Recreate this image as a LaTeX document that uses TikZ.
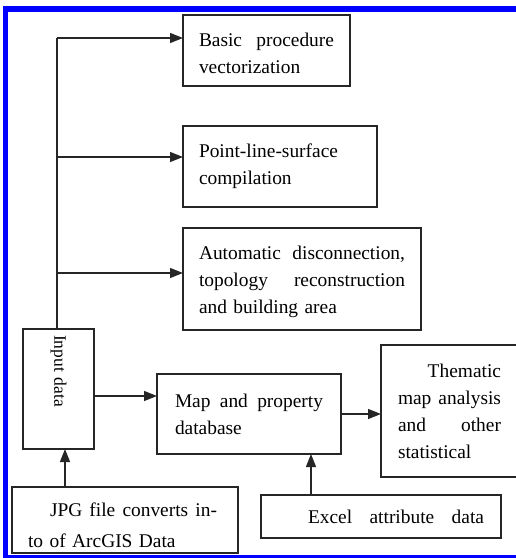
\documentclass[tikz,border=0pt]{standalone}
\usepackage{fontspec}
\setmainfont{Liberation Serif}
\usetikzlibrary{arrows.meta}
\newcommand{\fillline}[2]{\leavevmode\hbox to #1{#2}}

\begin{document}
\begin{tikzpicture}[x=1pt,y=-1pt,
    box/.style={draw=black!85,line width=1.4pt,fill=white,outer sep=0pt,
      anchor=north west,inner xsep=16pt,inner ysep=0pt,align=left,
      font=\fontsize{19.4}{27}\selectfont},
    link/.style={draw=black!85,line width=1.4pt,-{Triangle[length=13pt,width=10pt]}},
    frame/.style={draw=blue,line width=5.5pt}]
  \useasboundingbox (0,0) rectangle (516,558);
  \clip (0,0) rectangle (516,558);
  % right hand column of processing steps
  \node[box,text width=135pt,minimum height=71pt] (basic) at (183,15)
    {\rule{0pt}{20pt}\fillline{135pt}{Basic\hfill procedure}\\vectorization};
  \node[box,text width=162pt,minimum height=81pt] (point) at (183,126)
    {Point-line-surface\\compilation};
  \node[box,text width=206pt,minimum height=102pt] (auto) at (183,228)
    {\rule{0pt}{20pt}\fillline{206pt}{Automatic\hfill disconnection,}\\
     \fillline{206pt}{topology\hfill reconstruction}\\and building area};
  % input and database row
  \node[box,anchor=center,rotate=-90,inner xsep=6pt,text width=108pt,
    minimum height=71pt,font=\fontsize{17.5}{20}\selectfont] (input) at (58.5,389)
    {Input data};
  \node[box,inner xsep=18pt,text width=148pt,minimum height=80pt] (map) at (157,374)
    {\fillline{148pt}{Map\hfill and\hfill property}\\database};
  \node[box,inner xsep=17pt,text width=103pt,minimum height=132pt] (them) at (381,345)
    {\fillline{103pt}{\hfill Thematic}\\\fillline{103pt}{map\hfill analysis}\\
     \fillline{103pt}{and\hfill other}\\statistical};
  % sources at the bottom
  \node[box,text width=194pt,minimum height=66pt,
    font=\fontsize{19.4}{31}\selectfont] (jpg) at (12,487)
    {\rule{0pt}{24pt}\hspace*{22pt}\fillline{167pt}{JPG\hfill file\hfill converts\hfill in-}\\to of ArcGIS Data};
  \node[box,inner xsep=17pt,text width=206pt,minimum height=43pt] (excel) at (261,495)
    {\hspace*{30pt}\fillline{176pt}{Excel\hfill attribute\hfill data}};

  % trunk from the input box with its three branches
  \coordinate (trunk) at (57,38);
  \draw[draw=black!85,line width=1.4pt] (trunk |- input.west) -- (trunk);
  \foreach \b/\y in {basic/38,point/157,auto/273}{
    \coordinate (fork) at (57,\y);
    \draw[link] (fork) -- (fork -| \b.west);
  }
  \coordinate (inout) at ([yshift=-7pt]input.north);
  \draw[link] (inout) -- (inout -| map.west);
  \draw[link] (map.east) -- (map.east -| them.west);
  \coordinate (xin) at ([xshift=-70pt]excel.north);
  \draw[link] (xin) -- (xin |- map.south);
  \coordinate (jin) at ([xshift=-60pt]jpg.north);
  \draw[link] (jin) -- (jin |- input.east);

  \draw[frame] (5.5,9) rectangle (600,558);
\end{tikzpicture}
\end{document}
